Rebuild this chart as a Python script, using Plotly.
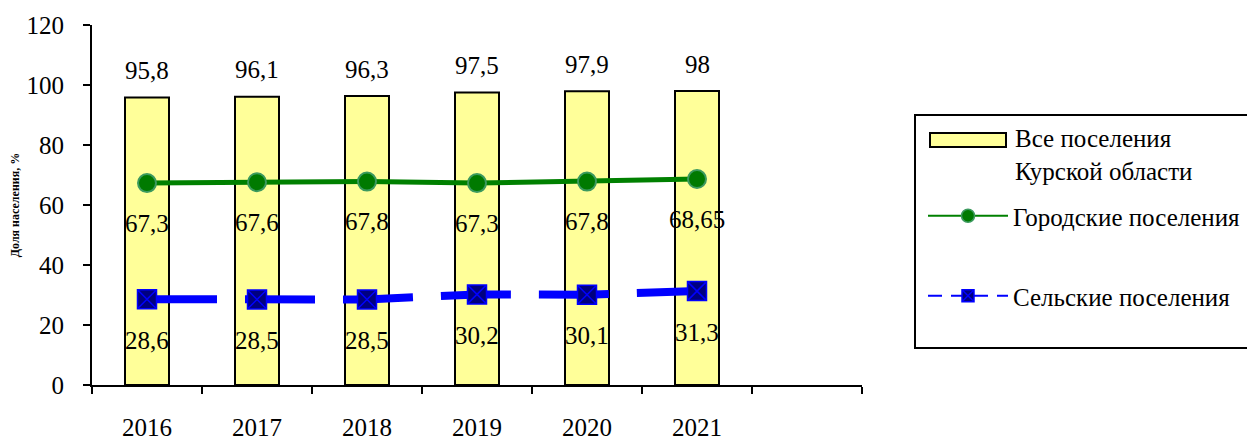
import plotly.graph_objects as go

years = ["2016", "2017", "2018", "2019", "2020", "2021"]
all_settlements = [95.8, 96.1, 96.3, 97.5, 97.9, 98]
urban = [67.3, 67.6, 67.8, 67.3, 67.8, 68.65]
rural = [28.6, 28.5, 28.5, 30.2, 30.1, 31.3]

names = ["Все поселения<br>Курской области", "Городские поселения", "Сельские поселения"]

FONT = "Times New Roman, Liberation Serif, serif"
FS = 25

def fmt(v):
    return ("%g" % v).replace(".", ",")

xi = list(range(len(years)))

fig = go.Figure()
fig.add_trace(go.Bar(
    x=xi, y=all_settlements, width=0.4, name=names[0], showlegend=False,
    marker=dict(color="#FFFF99", line=dict(color="black", width=2)),
))
fig.add_trace(go.Scatter(
    x=xi, y=urban, mode="lines+markers", name=names[1], showlegend=False,
    line=dict(color="#008000", width=5),
    marker=dict(symbol="circle", size=18, color="#007A00", line=dict(color="#3C9A5F", width=2)),
))
fig.add_trace(go.Scatter(
    x=xi, y=rural, mode="lines+markers", name=names[2], showlegend=False,
    line=dict(color="#0000FF", width=8, dash="70px,28px"),
    marker=dict(symbol="square-x", size=19, color="#000080", line=dict(color="#0000FF", width=1.5)),
))

# legend proxies (no data)
fig.add_trace(go.Scatter(
    x=[None], y=[None], mode="lines+markers", name=names[1], legend="legend2",
    line=dict(color="#008000", width=2),
    marker=dict(symbol="circle", size=13, color="#007A00", line=dict(color="#3C9A5F", width=1.5)),
))
fig.add_trace(go.Scatter(
    x=[None], y=[None], mode="lines+markers", name=names[2], legend="legend3",
    line=dict(color="#0000FF", width=2, dash="14px,9px"),
    marker=dict(symbol="square-x", size=12, color="#000080", line=dict(color="#0000FF", width=1.5)),
))

lab_font = dict(family=FONT, size=FS, color="black")
for i in xi:
    fig.add_annotation(x=i, y=all_settlements[i], text=fmt(all_settlements[i]), showarrow=False, yshift=27,
                       font=lab_font)
    fig.add_annotation(x=i, y=urban[i], text=fmt(urban[i]), showarrow=False, yshift=-40, font=lab_font)
    fig.add_annotation(x=i, y=rural[i], text=fmt(rural[i]), showarrow=False, yshift=-41, font=lab_font)

def px_x(p):
    return (p - 92) / 770.0

def px_y(p):
    return (385 - p) / 360.0

# legend box
fig.add_shape(type="rect", xref="paper", yref="paper", x0=px_x(915), x1=px_x(1262), y0=px_y(348), y1=px_y(115),
              line=dict(color="black", width=2), fillcolor="rgba(0,0,0,0)")
# bar legend swatch + text
fig.add_shape(type="rect", xref="paper", yref="paper", x0=px_x(930), x1=px_x(1006), y0=px_y(147), y1=px_y(133),
              line=dict(color="black", width=2), fillcolor="#FFFF99")
fig.add_annotation(xref="paper", yref="paper", x=px_x(1013), y=px_y(155), xanchor="left", yanchor="middle",
                   text=names[0], showarrow=False, align="left", font=lab_font)

leg_common = dict(xanchor="left", yanchor="middle", bgcolor="rgba(0,0,0,0)",
                  font=lab_font, itemwidth=80)

fig.update_layout(
    width=1247, height=433,
    margin=dict(l=84, r=393, t=17, b=56, autoexpand=False),
    paper_bgcolor="white", plot_bgcolor="white",
    font=dict(family=FONT, size=FS, color="black"),
    showlegend=True,
    legend2=dict(x=px_x(923), y=px_y(216), **leg_common),
    legend3=dict(x=px_x(923), y=px_y(296), **leg_common),
    xaxis=dict(
        range=[-0.5, 6.5], tickmode="array", tickvals=xi, ticktext=years, ticks="",
        showline=True, linecolor="black", linewidth=2, showgrid=False, zeroline=False,
        automargin=False, ticklabelstandoff=19, tickfont=lab_font,
        minor=dict(tickmode="array", tickvals=[k - 0.5 for k in range(8)], ticks="outside",
                   ticklen=7, tickwidth=2, tickcolor="black", showgrid=False),
    ),
    yaxis=dict(
        range=[0, 120], tickmode="array", tickvals=[0, 20, 40, 60, 80, 100, 120],
        ticks="outside", ticklen=7, tickwidth=2, tickcolor="black",
        showline=True, linecolor="black", linewidth=2, showgrid=False, zeroline=False,
        automargin=False, ticklabelstandoff=14, tickfont=lab_font,
        title=dict(text="<b>Доля населения, %</b>", font=dict(family=FONT, size=12, color="black"), standoff=4),
    ),
)

fig.write_html("out.html")
